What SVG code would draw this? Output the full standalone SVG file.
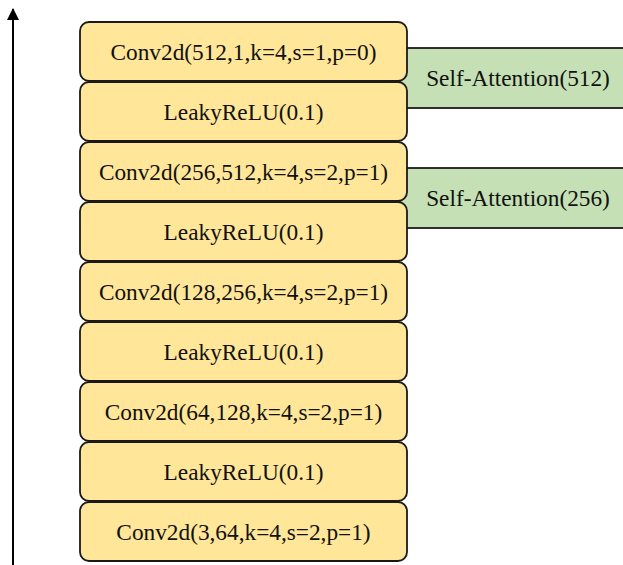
<svg xmlns="http://www.w3.org/2000/svg" width="623" height="565" viewBox="0 0 623 565">
<style>
.l{fill:#FFE699;stroke:#1a1a1a;stroke-width:1.8}
.a{fill:#C5E0B4;stroke:#1a1a1a;stroke-width:1.8}
text{font-family:'Liberation Serif','Times New Roman',serif;font-size:23.3px;fill:#111;text-anchor:middle}
</style>
<defs><marker id="ah" viewBox="0 0 12 12" refX="11" refY="6" markerWidth="12" markerHeight="12" markerUnits="userSpaceOnUse" orient="auto"><path d="M0,0L12,6L0,12z" fill="#000"/></marker></defs>
<g id="connectors"><line x1="13" y1="565" x2="13" y2="9" stroke="#000" stroke-width="2" marker-end="url(#ah)"/></g>
<g id="sa512"><rect class="a" x="400" y="48" width="240" height="60"/><text x="518" y="85.5">Self-Attention(512)</text></g>
<g id="sa256"><rect class="a" x="400" y="168" width="240" height="60"/><text x="518" y="205.5">Self-Attention(256)</text></g>
<g id="n1"><rect class="l" x="80" y="22" width="327" height="59" rx="9"/><text x="243.5" y="59.8">Conv2d(512,1,k=4,s=1,p=0)</text></g>
<g id="n2"><rect class="l" x="80" y="82" width="327" height="59" rx="9"/><text x="243.5" y="119.8">LeakyReLU(0.1)</text></g>
<g id="n3"><rect class="l" x="80" y="142" width="327" height="59" rx="9"/><text x="243.5" y="179.8">Conv2d(256,512,k=4,s=2,p=1)</text></g>
<g id="n4"><rect class="l" x="80" y="202" width="327" height="59" rx="9"/><text x="243.5" y="239.8">LeakyReLU(0.1)</text></g>
<g id="n5"><rect class="l" x="80" y="262" width="327" height="59" rx="9"/><text x="243.5" y="299.8">Conv2d(128,256,k=4,s=2,p=1)</text></g>
<g id="n6"><rect class="l" x="80" y="322" width="327" height="59" rx="9"/><text x="243.5" y="359.8">LeakyReLU(0.1)</text></g>
<g id="n7"><rect class="l" x="80" y="382" width="327" height="59" rx="9"/><text x="243.5" y="419.8">Conv2d(64,128,k=4,s=2,p=1)</text></g>
<g id="n8"><rect class="l" x="80" y="442" width="327" height="59" rx="9"/><text x="243.5" y="479.8">LeakyReLU(0.1)</text></g>
<g id="n9"><rect class="l" x="80" y="502" width="327" height="59" rx="9"/><text x="243.5" y="539.8">Conv2d(3,64,k=4,s=2,p=1)</text></g>
</svg>
